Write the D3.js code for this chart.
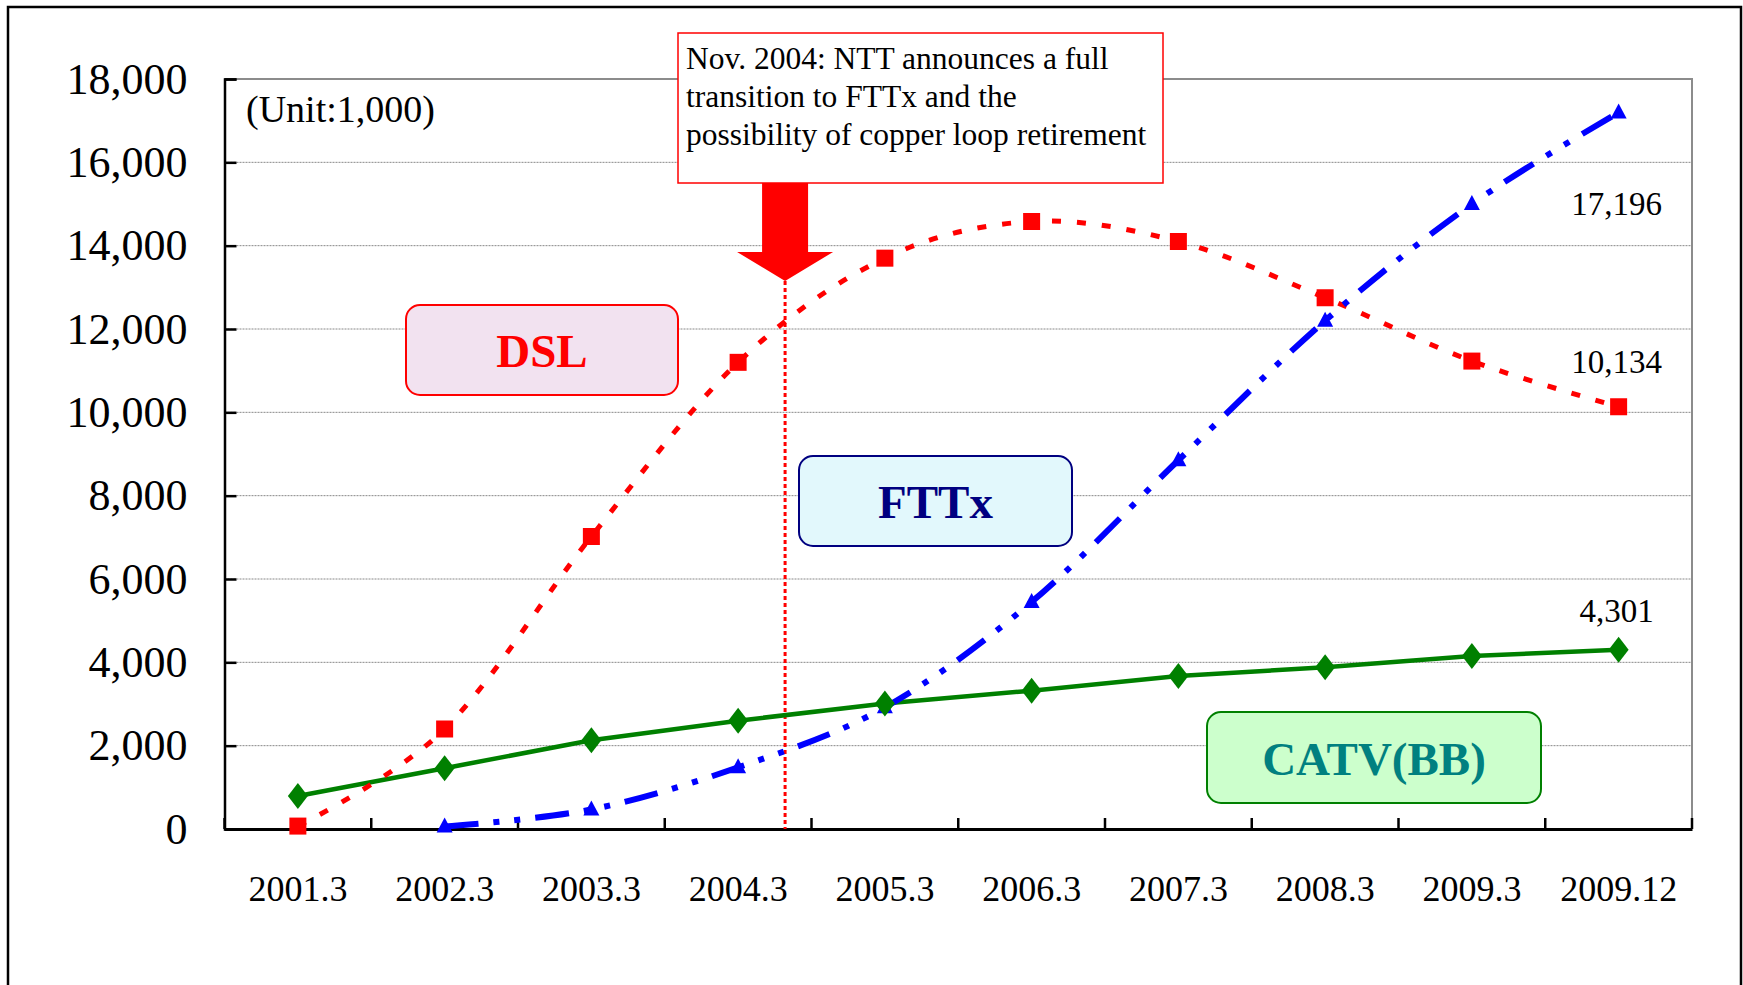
<!DOCTYPE html>
<html>
<head>
<meta charset="utf-8">
<script src="https://cdn.jsdelivr.net/npm/d3@7"></script>
<style>
  body { margin: 0; background: #fff; }
  text { font-family: "Liberation Serif", "Times New Roman", serif; }
</style>
</head>
<body>
<svg id="chart"></svg>
<script>
var width = 1743,
  height = 985;

// data (thousands of subscribers)
var categories = ['2001.3', '2002.3', '2003.3', '2004.3', '2005.3', '2006.3', '2007.3', '2008.3', '2009.3', '2009.12'];
var dsl = [70, 2400, 7020, 11200, 13700, 14580, 14100, 12750, 11230, 10134];
var fttx = [null, 60, 470, 1480, 2920, 5450, 8850, 12200, 15000, 17196];
var catv = [790, 1460, 2130, 2600, 3010, 3320, 3670, 3880, 4150, 4301];
var yTicks = [0, 2000, 4000, 6000, 8000, 10000, 12000, 14000, 16000, 18000];
var endLabels = ['17,196', '10,134', '4,301'];
var boxLabels = ['DSL', 'FTTx', 'CATV(BB)'];
var noteLines = ['Nov. 2004: NTT announces a full', 'transition to FTTx and the', 'possibility of copper loop retirement'];

var svg = d3.select('#chart')
  .attr('width', width)
  .attr('height', height);

// outer frame
svg.append('rect')
  .attr('x', 8)
  .attr('y', 7)
  .attr('width', 1733)
  .attr('height', 1000)
  .attr('fill', 'none')
  .attr('stroke', '#000')
  .attr('stroke-width', 2.5);

var x = d3.scaleBand()
  .domain(categories)
  .range([224.5, 1692]);

var y = d3.scaleLinear()
  .domain([0, 18000])
  .range([829, 79]);

function cx(i) { return x(categories[i]) + x.bandwidth() / 2; }

// grid lines
svg.append('g')
  .selectAll('line')
  .data(yTicks.slice(1, -1))
  .enter().append('line')
  .attr('x1', x.range()[0])
  .attr('x2', x.range()[1])
  .attr('y1', function(d) { return y(d); })
  .attr('y2', function(d) { return y(d); })
  .attr('stroke', '#888')
  .attr('stroke-width', 1)
  .attr('stroke-dasharray', '2,1');

// plot area border (top / right)
svg.append('path')
  .attr('d', 'M' + x.range()[0] + ',' + y(18000) + 'H' + x.range()[1] + 'V' + y(0))
  .attr('fill', 'none')
  .attr('stroke', '#8c8c8c')
  .attr('stroke-width', 2);

// y axis
var yAxis = svg.append('g')
  .attr('transform', 'translate(' + x.range()[0] + ',0)')
  .call(d3.axisLeft(y)
    .tickValues(yTicks)
    .tickSize(-12)
    .tickPadding(37)
    .tickFormat(d3.format(',')));
yAxis.select('.domain').attr('stroke-width', 2.5);
yAxis.selectAll('.tick line').attr('stroke-width', 2.5);
yAxis.selectAll('text')
  .attr('font-size', 44)
  .attr('font-family', '"Liberation Serif", serif')
  .attr('fill', '#000');

// x axis
var xAxis = svg.append('g')
  .attr('transform', 'translate(0,' + y(0) + ')')
  .call(d3.axisBottom(x)
    .tickSize(0)
    .tickPadding(46));
xAxis.select('.domain').attr('stroke-width', 3);
xAxis.selectAll('text')
  .attr('font-size', 36)
  .attr('font-family', '"Liberation Serif", serif')
  .attr('fill', '#000');

// x boundary ticks
svg.append('g')
  .selectAll('line')
  .data(categories.map(function(c) { return x(c); }).concat([x.range()[1]]))
  .enter().append('line')
  .attr('x1', function(d) { return d; })
  .attr('x2', function(d) { return d; })
  .attr('y1', y(0))
  .attr('y2', y(0) - 11)
  .attr('stroke', '#000')
  .attr('stroke-width', 2.5);

// unit note
svg.append('text')
  .attr('x', 246)
  .attr('y', 122)
  .attr('font-size', 38)
  .text('(Unit:1,000)');

// event marker (Nov. 2004)
var eventX = cx(3) + x.step() * 0.32;

svg.append('line')
  .attr('x1', eventX)
  .attr('x2', eventX)
  .attr('y1', 281)
  .attr('y2', y(0))
  .attr('stroke', '#ff0000')
  .attr('stroke-width', 3)
  .attr('stroke-dasharray', '4,3');

svg.append('path')
  .attr('d', 'M' + (eventX - 23) + ',182V252H' + (eventX - 48) + 'L' + eventX + ',281L' +
    (eventX + 48) + ',252H' + (eventX + 23) + 'V182Z')
  .attr('fill', '#ff0000');

svg.append('rect')
  .attr('x', 678)
  .attr('y', 33)
  .attr('width', 485)
  .attr('height', 150)
  .attr('fill', '#fff')
  .attr('stroke', '#ff0000')
  .attr('stroke-width', 1.5);

svg.append('g')
  .selectAll('text')
  .data(noteLines)
  .enter().append('text')
  .attr('x', 686)
  .attr('y', function(d, i) { return 69 + i * 38; })
  .attr('font-size', 31.5)
  .text(function(d) { return d; });

// lines
var smooth = d3.line()
  .defined(function(d) { return d != null; })
  .x(function(d, i) { return cx(i); })
  .y(function(d) { return y(d); })
  .curve(d3.curveCardinal.tension(0));

var straight = d3.line()
  .x(function(d, i) { return cx(i); })
  .y(function(d) { return y(d); });

svg.append('path')
  .datum(catv)
  .attr('d', straight)
  .attr('fill', 'none')
  .attr('stroke', '#008000')
  .attr('stroke-width', 4.5);

svg.append('path')
  .datum(dsl)
  .attr('d', smooth)
  .attr('fill', 'none')
  .attr('stroke', '#ff0000')
  .attr('stroke-width', 5)
  .attr('stroke-dasharray', '9,16');

svg.append('path')
  .datum(fttx)
  .attr('d', smooth)
  .attr('fill', 'none')
  .attr('stroke', '#0000ff')
  .attr('stroke-width', 6)
  .attr('stroke-dasharray', '34,15,6,15,6,15');

// markers
svg.append('g')
  .selectAll('rect')
  .data(dsl)
  .enter().append('rect')
  .attr('x', function(d, i) { return cx(i) - 8.5; })
  .attr('y', function(d) { return y(d) - 8.5; })
  .attr('width', 17)
  .attr('height', 17)
  .attr('fill', '#ff0000');

svg.append('g')
  .selectAll('path')
  .data(fttx.map(function(d, i) { return [d, i]; }).filter(function(d) { return d[0] != null; }))
  .enter().append('path')
  .attr('d', function(d) {
    var px = cx(d[1]), py = y(d[0]);
    return 'M' + px + ',' + (py - 9) + 'L' + (px + 8) + ',' + (py + 6) + 'L' + (px - 8) + ',' + (py + 6) + 'Z';
  })
  .attr('fill', '#0000ff');

svg.append('g')
  .selectAll('path')
  .data(catv)
  .enter().append('path')
  .attr('d', function(d, i) {
    var px = cx(i), py = y(d);
    return 'M' + px + ',' + (py - 13) + 'L' + (px + 10) + ',' + py + 'L' + px + ',' + (py + 13) + 'L' + (px - 10) + ',' + py + 'Z';
  })
  .attr('fill', '#008000');

// end value labels
var last = categories.length - 1;
var endY = [y(fttx[last]) + 102, y(dsl[last]) - 34, y(catv[last]) - 28];
svg.append('g')
  .selectAll('text')
  .data(endLabels)
  .enter().append('text')
  .attr('x', cx(last) - 2)
  .attr('y', function(d, i) { return endY[i]; })
  .attr('text-anchor', 'middle')
  .attr('font-size', 33)
  .text(function(d) { return d; });

// series name boxes
var boxes = [
  { x: 406, y: 305, w: 272, h: 90, fill: '#f2e2f0', stroke: '#ff0000', color: '#ff0000' },
  { x: 799, y: 456, w: 273, h: 90, fill: '#e2f8fc', stroke: '#000080', color: '#000080' },
  { x: 1207, y: 712, w: 334, h: 91, fill: '#ccffcc', stroke: '#008000', color: '#008080' }
];

var bg = svg.append('g')
  .selectAll('g')
  .data(boxLabels)
  .enter().append('g');

bg.append('rect')
  .attr('x', function(d, i) { return boxes[i].x; })
  .attr('y', function(d, i) { return boxes[i].y; })
  .attr('width', function(d, i) { return boxes[i].w; })
  .attr('height', function(d, i) { return boxes[i].h; })
  .attr('rx', 14)
  .attr('fill', function(d, i) { return boxes[i].fill; })
  .attr('stroke', function(d, i) { return boxes[i].stroke; })
  .attr('stroke-width', 2);

bg.append('text')
  .attr('x', function(d, i) { return boxes[i].x + boxes[i].w / 2; })
  .attr('y', function(d, i) { return boxes[i].y + boxes[i].h / 2 + 17; })
  .attr('text-anchor', 'middle')
  .attr('font-size', 47)
  .attr('font-weight', 'bold')
  .attr('fill', function(d, i) { return boxes[i].color; })
  .text(function(d) { return d; });
</script>
</body>
</html>
